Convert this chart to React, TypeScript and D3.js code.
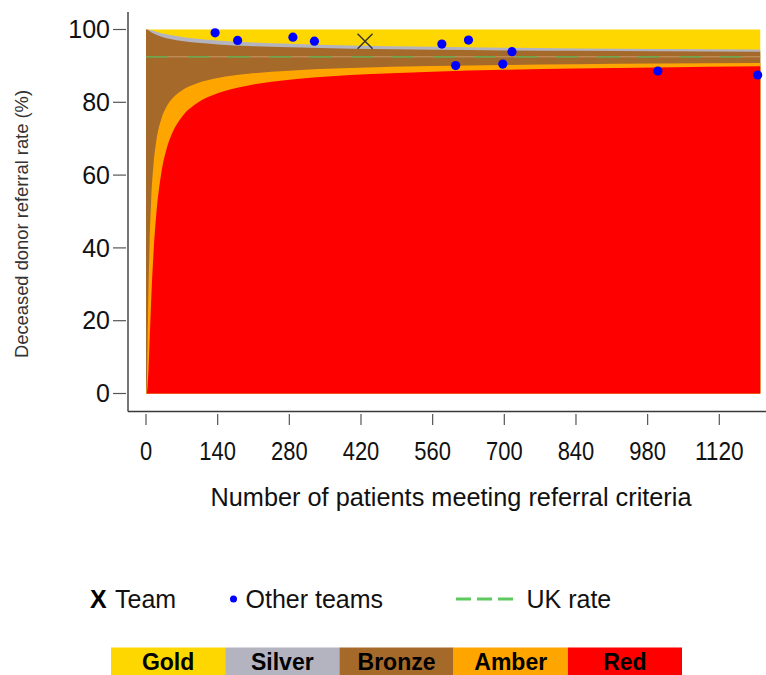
import React from 'react';
import * as d3 from 'd3';

const W = 766;
const H = 675;

// Funnel control limits (patients, % rate)
const limitN = [0, 1, 2, 3, 5, 7, 10, 15, 20, 30, 40, 50, 70, 100, 140, 200, 280, 400, 560, 700, 840, 1000, 1200];
const lower3 = [0, 0.01, 0.39, 1.69, 7.03, 14.27, 25.17, 39.45, 49.14, 60.65, 67.07, 71.12, 75.97, 79.79, 82.49, 84.64, 86.19, 87.47, 88.4, 88.91, 89.28, 89.59, 89.88];
const lower2 = [0, 0.62, 5.43, 13.33, 29.25, 41.15, 52.78, 63.45, 69.31, 75.51, 78.78, 80.82, 83.27, 85.23, 86.66, 87.82, 88.68, 89.4, 89.94, 90.25, 90.47, 90.65, 90.83];
const upper2 = [100, 100, 99.96, 99.9, 99.73, 99.54, 99.27, 98.87, 98.54, 98.01, 97.62, 97.3, 96.83, 96.34, 95.91, 95.47, 95.1, 94.74, 94.44, 94.26, 94.13, 94.0, 93.88];
const upper3 = [100, 100, 100, 99.99, 99.95, 99.89, 99.78, 99.57, 99.37, 99.0, 98.68, 98.41, 97.96, 97.47, 97.0, 96.5, 96.06, 95.61, 95.23, 94.99, 94.81, 94.65, 94.49];

const ukRate = 92.5;

const teamN = [428];
const teamRate = [96.8];

const otherN = [135, 179, 287, 329, 578, 605, 630, 697, 715, 1000, 1195];
const otherRate = [99.1, 97.0, 97.9, 96.8, 96.0, 90.1, 97.1, 90.5, 93.9, 88.6, 87.5];

const xTicks = [0, 140, 280, 420, 560, 700, 840, 980, 1120];
const yTicks = [0, 20, 40, 60, 80, 100];

const bandNames = ['Gold', 'Silver', 'Bronze', 'Amber', 'Red'];
const bandColors = ['#FFD700', '#B4B4C0', '#A5692A', '#FFA500', '#FF0000'];

const FONT = '"Liberation Sans", Arial, Helvetica, sans-serif';

export default function App() {
  const x = d3.scaleLinear().domain([0, 1120]).range([146, 719.3]);
  const y = d3.scaleLinear().domain([0, 100]).range([393.5, 29.5]);

  const rows = limitN.map((n, i) => ({ n, l3: lower3[i], l2: lower2[i], u2: upper2[i], u3: upper3[i] }));
  type Row = (typeof rows)[number];
  const mk = (key: 'l3' | 'l2' | 'u2' | 'u3') =>
    d3
      .area<Row>()
      .x((d) => x(d.n))
      .y0(y(0))
      .y1((d) => y(d[key]))
      .curve(d3.curveMonotoneX)(rows) || '';

  const nMax = limitN[limitN.length - 1];
  const axisColor = '#3a3a3a';

  const bandX = d3.scaleBand<string>().domain(bandNames).range([111, 682]);

  return (
    <svg
      width={W}
      height={H}
      style={{ position: 'fixed', left: 0, top: 0, background: '#fff' }}
      fontFamily={FONT}
    >
      {/* Bands */}
      <rect x={x(0)} y={y(100)} width={x(nMax) - x(0)} height={y(0) - y(100)} fill={bandColors[0]} />
      <path d={mk('u3')} fill={bandColors[1]} />
      <path d={mk('u2')} fill={bandColors[2]} />
      <path d={mk('l2')} fill={bandColors[3]} />
      <path d={mk('l3')} fill={bandColors[4]} />

      {/* UK rate line */}
      <line x1={x(0)} x2={x(nMax)} y1={y(ukRate)} y2={y(ukRate)} stroke="#c89a6a" strokeWidth={1} />
      <line
        x1={x(0)}
        x2={x(nMax)}
        y1={y(ukRate)}
        y2={y(ukRate)}
        stroke="#55b04f"
        strokeWidth={1.2}
        strokeDasharray="22 19"
      />

      {/* Other teams */}
      {otherN.map((n, i) => (
        <circle key={i} cx={x(n)} cy={y(otherRate[i])} r={4.6} fill="#0000FF" />
      ))}

      {/* Team */}
      {teamN.map((n, i) => {
        const cx = x(n);
        const cy = y(teamRate[i]);
        const s = 7.5;
        return (
          <g key={i} stroke="#333" strokeWidth={1.4}>
            <line x1={cx - s} y1={cy - s} x2={cx + s} y2={cy + s} />
            <line x1={cx - s} y1={cy + s} x2={cx + s} y2={cy - s} />
          </g>
        );
      })}

      {/* Axes */}
      <line x1={128} x2={128} y1={12} y2={411.5} stroke={axisColor} strokeWidth={1.4} />
      <line x1={128} x2={W} y1={411.5} y2={411.5} stroke={axisColor} strokeWidth={1.4} />

      {yTicks.map((t) => (
        <g key={t}>
          <line x1={113} x2={126} y1={y(t)} y2={y(t)} stroke="#555" strokeWidth={1.2} />
          <text x={110} y={y(t)} dy="0.35em" textAnchor="end" fontSize={25} fill="#111">
            {t}
          </text>
        </g>
      ))}

      {xTicks.map((t) => (
        <g key={t}>
          <line x1={x(t)} x2={x(t)} y1={414} y2={425} stroke="#555" strokeWidth={1.2} />
          <text
            x={x(t)}
            y={460}
            textAnchor="middle"
            fontSize={26}
            fill="#111"
            textLength={String(t).length * 12.2}
            lengthAdjust="spacingAndGlyphs"
          >
            {t}
          </text>
        </g>
      ))}

      <text x={451} y={506} textAnchor="middle" fontSize={25} fill="#111" textLength={481} lengthAdjust="spacingAndGlyphs">
        Number of patients meeting referral criteria
      </text>

      <text
        transform={`translate(28,224) rotate(-90)`}
        textAnchor="middle"
        fontSize={18}
        fill="#333"
        textLength={268}
        lengthAdjust="spacingAndGlyphs"
      >
        Deceased donor referral rate (%)
      </text>

      {/* Legend */}
      <text x={90} y={608} fontSize={25} fontWeight="bold" fill="#000">
        X
      </text>
      <text x={115} y={608} fontSize={25} fill="#111">
        Team
      </text>
      <circle cx={233.5} cy={599} r={3.5} fill="#0000FF" />
      <text x={245.5} y={608} fontSize={25} fill="#111">
        Other teams
      </text>
      <line x1={456} x2={513} y1={599} y2={599} stroke="#5dc95f" strokeWidth={3} strokeDasharray="15 6" />
      <text x={526.5} y={608} fontSize={25} fill="#111">
        UK rate
      </text>

      {/* Colour key */}
      {bandNames.map((b, i) => (
        <g key={b}>
          <rect x={bandX(b)} y={647.5} width={bandX.bandwidth()} height={27.5} fill={bandColors[i]} />
          <text
            x={(bandX(b) || 0) + bandX.bandwidth() / 2}
            y={670}
            textAnchor="middle"
            fontSize={23}
            fontWeight="bold"
            fill="#000"
          >
            {b}
          </text>
        </g>
      ))}
    </svg>
  );
}
